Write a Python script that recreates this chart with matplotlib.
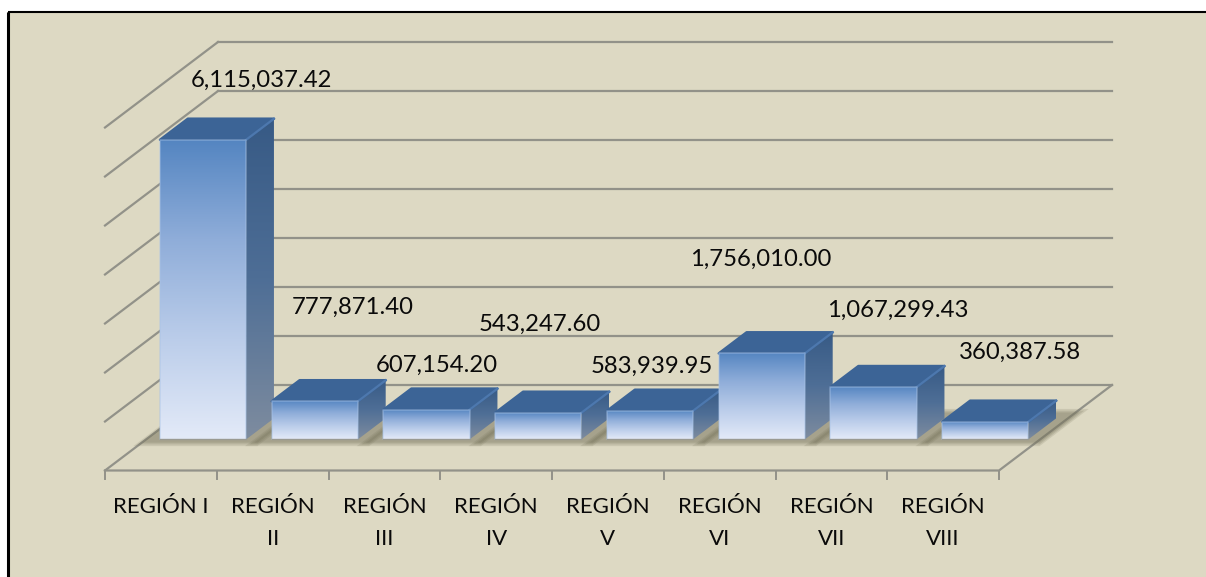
import numpy as np
import matplotlib
matplotlib.use('Agg')
import matplotlib.pyplot as plt
from matplotlib.colors import LinearSegmentedColormap
from matplotlib.patches import Polygon, Rectangle

plt.rcParams['font.family'] = ['Lato', 'DejaVu Sans']

categories = ['REGIÓN I', 'REGIÓN\nII', 'REGIÓN\nIII', 'REGIÓN\nIV',
              'REGIÓN\nV', 'REGIÓN\nVI', 'REGIÓN\nVII', 'REGIÓN\nVIII']
values = [6115037.42, 777871.40, 607154.20, 543247.60,
          583939.95, 1756010.00, 1067299.43, 360387.58]
grid_values = [0, 1e6, 2e6, 3e6, 4e6, 5e6, 6e6, 7e6]

# where the data labels sit in the picture [px]
label_px = [261, 353, 437, 540, 652, 761, 898, 1020]
label_py = [80, 307, 365, 324, 366, 259, 310, 352]

W, H = 1206, 577
X0, Y0 = 105, 470.5      # front left corner of the floor [px]
CAT_W = 111.75           # px per category
PX_PER_V = 49e-6         # px per unit
DEPTH_X, DEPTH_Y = 113, 85.5

# bar shape, as fractions of a category / of the floor depth
GAP, BAR_W = 0.125, 0.77
D_FRONT, D_BACK = 0.363, 0.61

BG = '#DDD9C3'
GRID = '#929289'

fig = plt.figure(figsize=(W/100, H/100), dpi=100, facecolor='white')
ax = fig.add_axes([0, 0, 1, 1])
xlim = (-X0/CAT_W, (W - X0)/CAT_W)
ylim = ((Y0 - H)/PX_PER_V, Y0/PX_PER_V)
ax.axis('off')


def xy(x, v, d=0.0):
    # category position + value + depth -> oblique data coordinates
    return (x + d*DEPTH_X/CAT_W, v + d*DEPTH_Y/PX_PER_V)


def px(x, y):
    return ((x - X0)/CAT_W, (Y0 - y)/PX_PER_V)


def gradient_face(pts, stops, zorder):
    pts = np.array(pts)
    cmap = LinearSegmentedColormap.from_list('f', stops)
    poly = Polygon(pts, closed=True, fc='none', ec='none', zorder=zorder)
    ax.add_patch(poly)
    im = ax.imshow(np.linspace(0, 1, 256)[:, None], cmap=cmap, aspect='auto',
                   origin='upper', zorder=zorder,
                   extent=(pts[:, 0].min(), pts[:, 0].max(), pts[:, 1].min(), pts[:, 1].max()))
    im.set_clip_path(poly)


# background, black only along the top and left
ax.add_patch(Rectangle(px(7, H), (W - 7)/CAT_W, (H - 12)/PX_PER_V, fc=BG, ec='none', zorder=0))
a, b, c = px(7.5, H), px(7.5, 12), px(W, 12)
ax.plot([a[0], b[0]], [a[1], b[1]], color='black', lw=2.2, zorder=0.5, solid_capstyle='butt')
ax.plot([b[0], c[0]], [b[1], c[1]], color='black', lw=1.5, zorder=0.5, solid_capstyle='butt')

# walls
for v in grid_values:
    p1, p2 = xy(0, v, 1), xy(8, v, 1)
    ax.plot([p1[0], p2[0]], [p1[1], p2[1]], color=GRID, lw=1.6, zorder=1)
    p0 = xy(0, v, 0)
    ax.plot([p0[0], p1[0]], [p0[1], p1[1]], color=GRID, lw=1.6, zorder=1)

# floor
p = [xy(0, 0), xy(8, 0), xy(8, 0, 1)]
ax.plot([q[0] for q in p], [q[1] for q in p], color=GRID, lw=1.6, zorder=1)
for i in range(len(categories) + 1):
    ax.plot([i, i], [0, -8/PX_PER_V], color=GRID, lw=1.4, zorder=1)

# soft shadow on the floor
for grow, alpha in [(0.0, 0.26), (0.02, 0.22), (0.04, 0.18)]:
    for i in range(len(categories)):
        l = i + GAP - 0.12 - grow
        r = i + GAP + BAR_W + 0.14 + grow
        d0, d1 = 0.325 - grow, 0.68 + grow
        ax.add_patch(Polygon([xy(l, 0, d0), xy(r, 0, d0), xy(r, 0, d1), xy(l, 0, d1)],
                             fc='#77745C', ec='none', alpha=alpha, zorder=2))

# bars
for i, v in enumerate(values):
    z = 3 + i
    l, r = i + GAP, i + GAP + BAR_W
    fl0, fr0 = xy(l, 0, D_FRONT), xy(r, 0, D_FRONT)
    fl1, fr1 = xy(l, v, D_FRONT), xy(r, v, D_FRONT)
    br0, br1 = xy(r, 0, D_BACK), xy(r, v, D_BACK)
    bl1 = xy(l, v, D_BACK)
    gradient_face([fr0, br0, br1, fr1],
                  ['#375A85', '#4E6E96', '#7E8C9F'], z)
    ax.add_patch(Polygon([fl1, fr1, br1, bl1], fc='#3C6496', ec='#3C6496', lw=1.8,
                         joinstyle='round', zorder=z + 0.1))
    ax.plot([fr1[0], br1[0]], [fr1[1], br1[1]], color='#4D78AE', lw=1.6, zorder=z + 0.15)
    gradient_face([fl0, fr0, fr1, fl1],
                  ['#5485C1', '#8FADD9', '#BBCDEA', '#E3EAF8'], z + 0.2)
    # light bevel round the front face
    ax.plot([fl0[0], fl1[0], fr1[0], fr0[0]], [fl0[1], fl1[1], fr1[1], fr0[1]],
            color='#A9C3E6', alpha=0.45, lw=1.2, zorder=z + 0.3)
    ax.plot([fl0[0], fr0[0]], [fl0[1], fr0[1]], color='#9A9A92', lw=1.0, zorder=z + 0.3)

# data labels
for v, lx, ly in zip(values, label_px, label_py):
    tx, ty = px(lx, ly)
    ax.text(tx, ty, f'{v:,.2f}', ha='center', va='center', fontsize=17.2,
            color='#0A0A0A', zorder=20)

# category labels
for i, c in enumerate(categories):
    tx, ty = px(X0 + CAT_W*(i + 0.5), 497)
    ax.text(tx, ty, c, ha='center', va='top', fontsize=16, color='#0A0A0A',
            linespacing=1.75, zorder=20)

ax.set_xlim(xlim)
ax.set_ylim(ylim)
fig.savefig('out.png', dpi=100, facecolor='white')
